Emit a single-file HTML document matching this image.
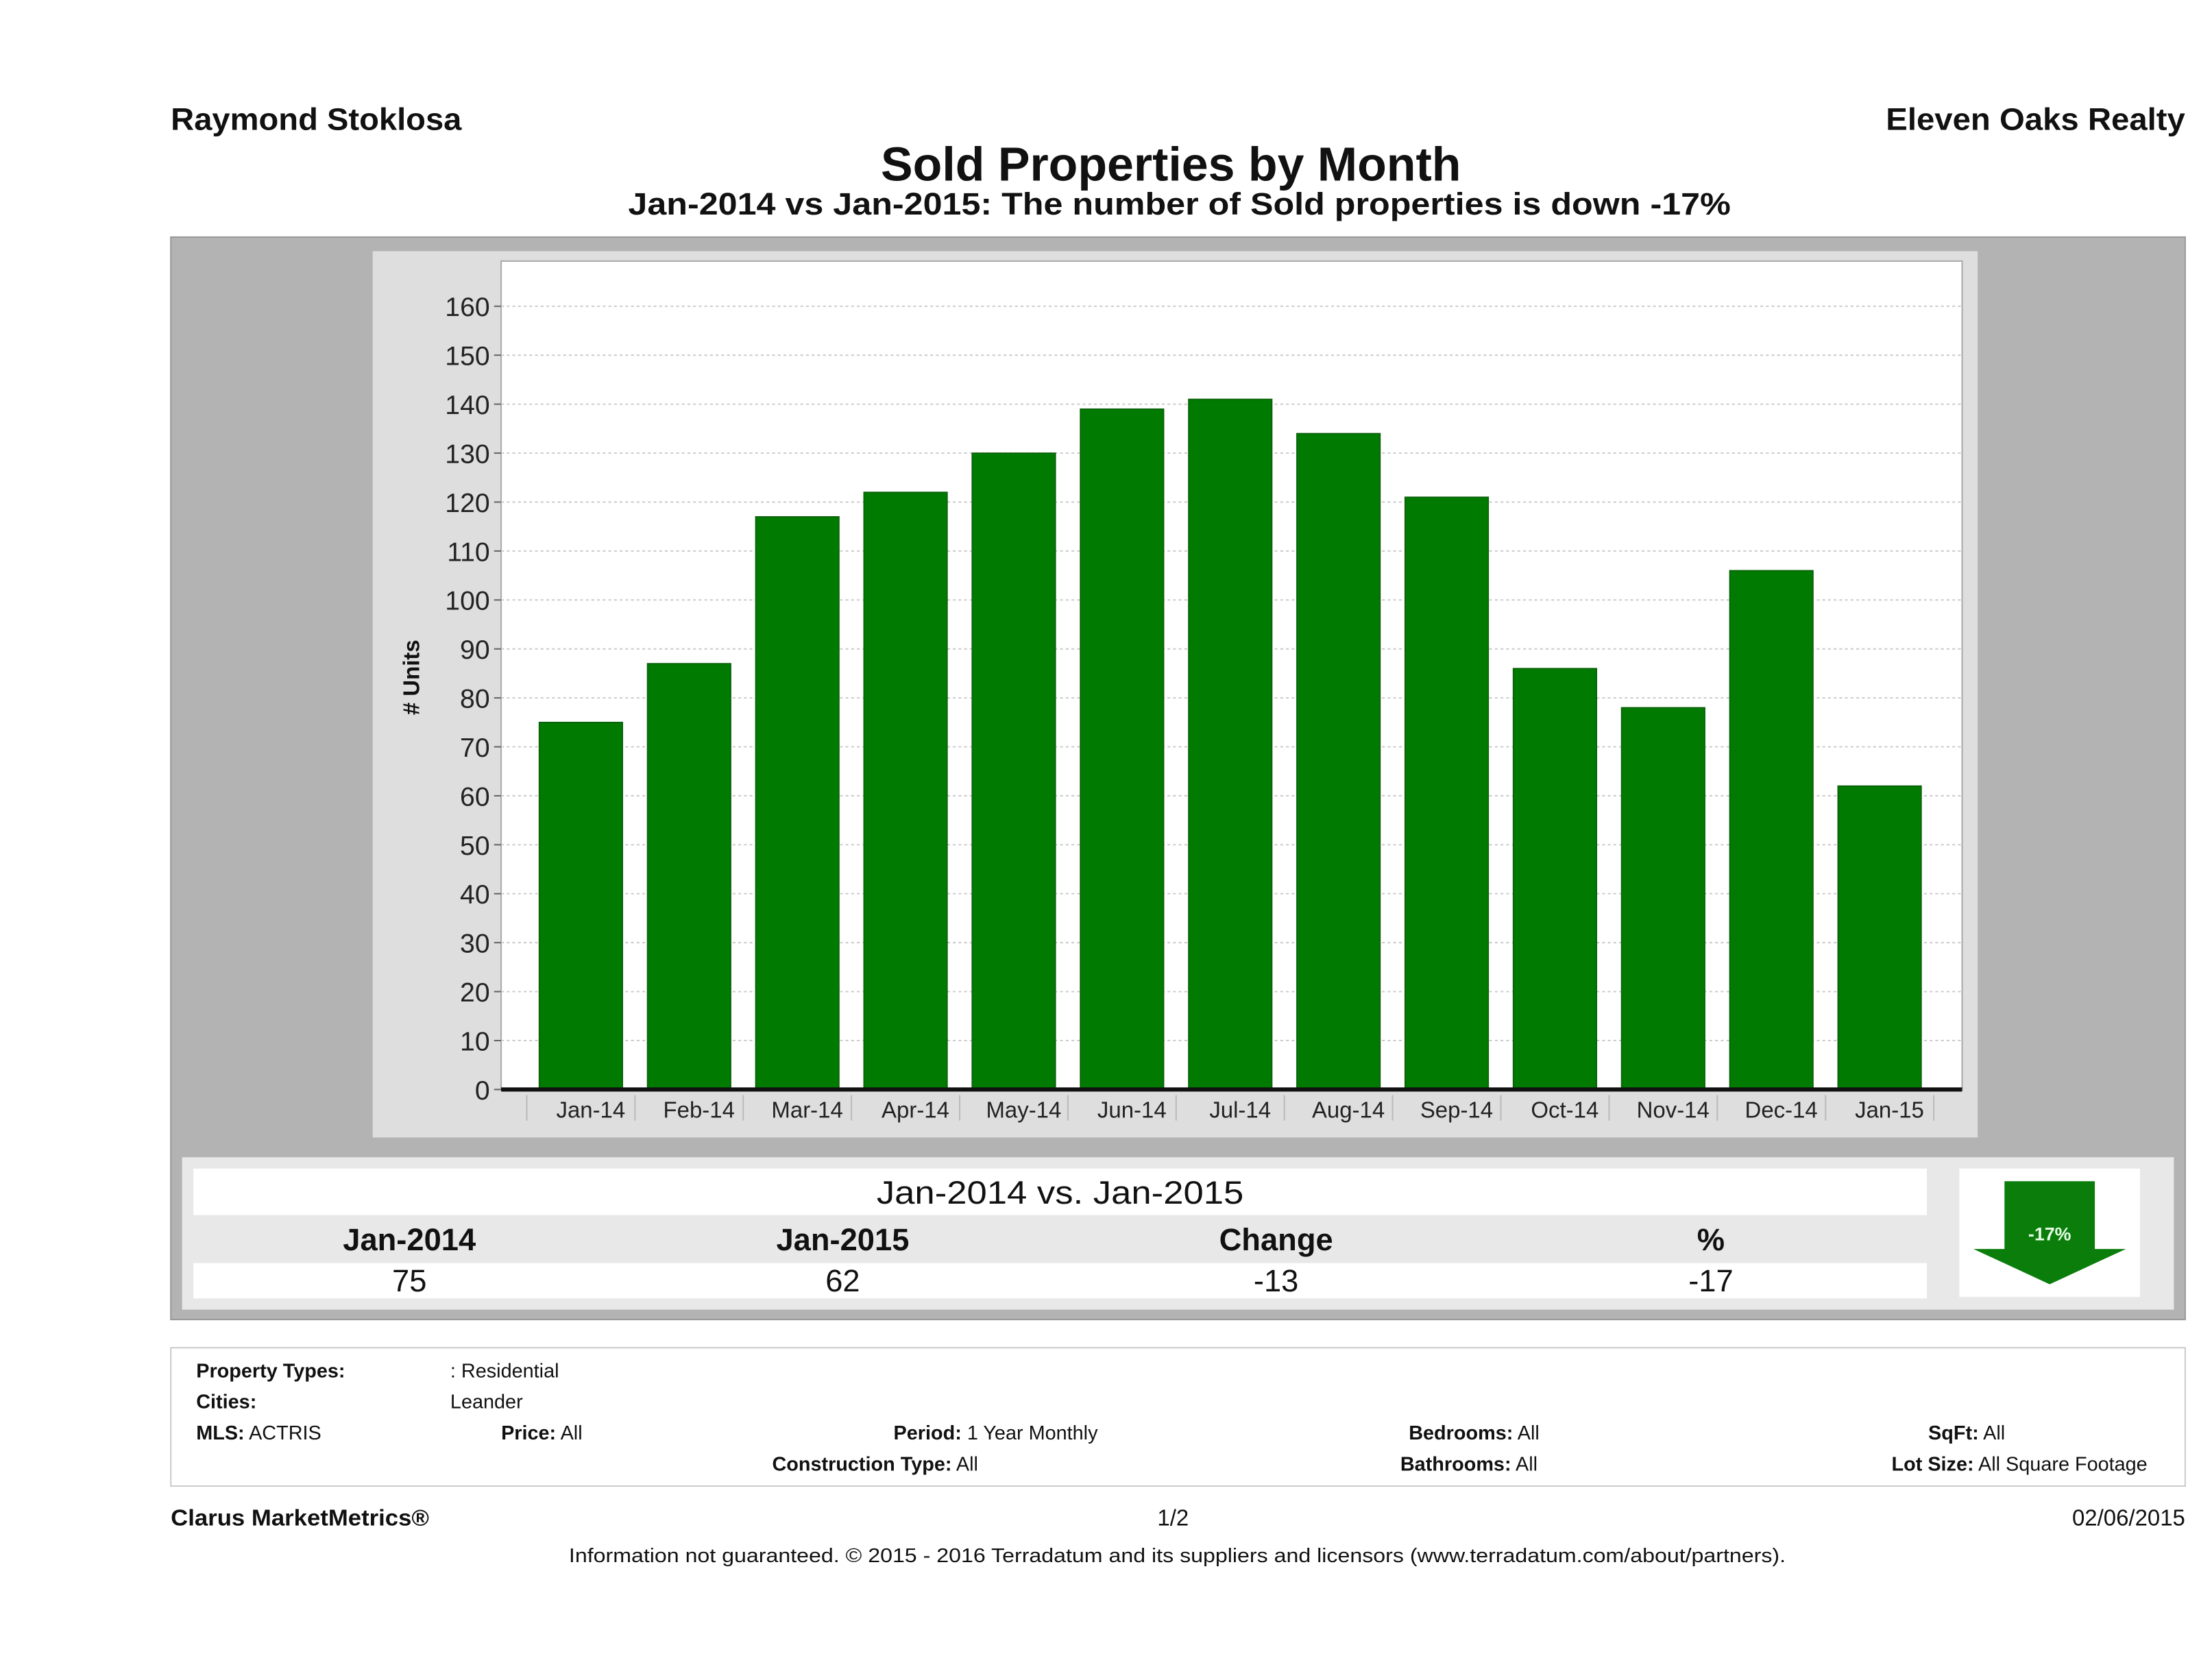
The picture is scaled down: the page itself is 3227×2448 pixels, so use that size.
<!DOCTYPE html>
<html><head><meta charset="utf-8"><style>
html,body{margin:0;padding:0;background:#fff;}
svg{display:block;font-family:"Liberation Sans","DejaVu Sans",sans-serif;}
</style></head><body>
<svg id="root" width="3227" height="2448" viewBox="0 0 1567 1189" preserveAspectRatio="none" xmlns="http://www.w3.org/2000/svg">
<text x="121" y="92" font-size="22" font-weight="bold" fill="#111" textLength="206" lengthAdjust="spacingAndGlyphs">Raymond Stoklosa</text>
<text x="1336" y="92" font-size="22" font-weight="bold" fill="#111" textLength="212" lengthAdjust="spacingAndGlyphs">Eleven Oaks Realty</text>
<text x="624" y="128" font-size="34" font-weight="bold" fill="#111" textLength="411" lengthAdjust="spacingAndGlyphs">Sold Properties by Month</text>
<text x="445" y="152" font-size="22" font-weight="bold" fill="#111" textLength="781" lengthAdjust="spacingAndGlyphs">Jan-2014 vs Jan-2015: The number of Sold  properties is down -17%</text>
<rect x="121" y="168" width="1427" height="767" fill="#b3b3b3" stroke="#999"/>
<rect x="264" y="178" width="1137" height="628" fill="#dedede"/>
<rect x="355" y="185" width="1035" height="587" fill="#fff" stroke="#aaa"/>
<g id="grid"></g>
<g id="bars"></g>
<g id="xaxis"></g>
<g id="yaxis"></g>
<text transform="translate(297,480) rotate(-90)" font-size="16" font-weight="bold" text-anchor="middle" fill="#111"># Units</text>

<rect x="129" y="820" width="1411" height="108" fill="#e8e8e8"/>
<rect x="137" y="828" width="1228" height="33" fill="#fff"/>
<text x="621" y="853" font-size="23" fill="#111" textLength="260" lengthAdjust="spacingAndGlyphs">Jan-2014 vs. Jan-2015</text>
<rect x="137" y="895" width="1228" height="25" fill="#fff"/>
<g font-size="22" text-anchor="middle" fill="#111">
<text x="290" y="886" font-weight="bold">Jan-2014</text>
<text x="597" y="886" font-weight="bold">Jan-2015</text>
<text x="904" y="886" font-weight="bold">Change</text>
<text x="1212" y="886" font-weight="bold">%</text>
<text x="290" y="915">75</text>
<text x="597" y="915">62</text>
<text x="904" y="915">-13</text>
<text x="1212" y="915">-17</text>
</g>
<rect x="1388" y="828" width="128" height="91" fill="#fff"/>
<polygon points="1420,837 1484,837 1484,885 1506,885 1452,910 1398,885 1420,885" fill="#0a7d0a"/>
<text x="1452" y="879" font-size="13" font-weight="bold" fill="#e8ffe8" text-anchor="middle">-17%</text>

<rect x="121" y="955" width="1427" height="98" fill="#fff" stroke="#ccc"/>
<g font-size="14" fill="#111">
<text x="139" y="976" font-weight="bold">Property Types:</text>
<text x="319" y="976">: Residential</text>
<text x="139" y="998" font-weight="bold">Cities:</text>
<text x="319" y="998">Leander</text>
<text x="139" y="1020"><tspan font-weight="bold">MLS:</tspan>   ACTRIS</text>
<text x="355" y="1020"><tspan font-weight="bold">Price:</tspan> All</text>
<text x="633" y="1020"><tspan font-weight="bold">Period:</tspan> 1 Year Monthly</text>
<text x="998" y="1020"><tspan font-weight="bold">Bedrooms:</tspan> All</text>
<text x="1366" y="1020"><tspan font-weight="bold">SqFt:</tspan>  All</text>
<text x="547" y="1042"><tspan font-weight="bold">Construction Type:</tspan> All</text>
<text x="992" y="1042"><tspan font-weight="bold">Bathrooms:</tspan> All</text>
<text x="1340" y="1042"><tspan font-weight="bold">Lot Size:</tspan>  All Square Footage</text>
</g>
<text x="121" y="1081" font-size="16" font-weight="bold" fill="#111" textLength="183" lengthAdjust="spacingAndGlyphs">Clarus MarketMetrics®</text>
<text x="831" y="1081" font-size="16" fill="#111" text-anchor="middle">1/2</text>
<text x="1548" y="1081" font-size="16" fill="#111" text-anchor="end">02/06/2015</text>
<text x="403" y="1107" font-size="14" fill="#111" textLength="862" lengthAdjust="spacingAndGlyphs">Information not guaranteed. © 2015 - 2016 Terradatum and its suppliers and licensors (www.terradatum.com/about/partners).</text>
</svg>
<script>
const categories = ["Jan-14","Feb-14","Mar-14","Apr-14","May-14","Jun-14","Jul-14","Aug-14","Sep-14","Oct-14","Nov-14","Dec-14","Jan-15"];
const soldValues = [75,87,117,122,130,139,141,134,121,86,78,106,62];
const yTicks = [0,10,20,30,40,50,60,70,80,90,100,110,120,130,140,150,160];

const NS = "http://www.w3.org/2000/svg";
const plotL = 355, plotR = 1390, y0 = 772, y160 = 217;
function yScale(v){ return y0 - (v/160)*(y0 - y160); }
const firstCenter = 411.5, step = 76.67, barW = 59;
function xScale(i){ return firstCenter + i*step; }
function mk(tag, attrs){ const e = document.createElementNS(NS, tag); for (const k in attrs) e.setAttribute(k, attrs[k]); return e; }

const grid = document.getElementById('grid');
const yaxis = document.getElementById('yaxis');
yTicks.forEach(t => {
  const y = yScale(t);
  if (t > 0) {
    const g = mk('line', {x1: plotL, x2: plotR, y1: y, y2: y, stroke: '#ccc', 'stroke-dasharray': '2,2'});
    
    
    grid.appendChild(g);
  }
  const tk = mk('line', {x1: plotL - 5, x2: plotL, y1: y, y2: y, stroke: '#666'});
  
  
  yaxis.appendChild(tk);
  const lb = mk('text', {x: plotL - 8, y: y + 7, 'font-size': 19, 'text-anchor': 'end', fill: '#222'});
  lb.textContent = t;
  
  
  yaxis.appendChild(lb);
});

const bars = document.getElementById('bars');
soldValues.forEach((v, i) => {
  const cx = xScale(i);
  const r = mk('rect', {x: cx - barW/2, y: yScale(v), width: barW, height: y0 - yScale(v), fill: '#007a00', stroke: '#0b5e0b', 'stroke-width': 0.8});
  
  
  bars.appendChild(r);
});

const xaxis = document.getElementById('xaxis');
const al = mk('line', {x1: plotL, x2: plotR, y1: y0, y2: y0, stroke: '#111', 'stroke-width': 3});


xaxis.appendChild(al);
categories.forEach((c, i) => {
  const cx = xScale(i);
  const sep = mk('line', {x1: cx - step/2, x2: cx - step/2, y1: y0 + 4, y2: y0 + 22, stroke: '#bbb'});
  
  
  xaxis.appendChild(sep);
  const t = mk('text', {x: cx + 7, y: y0 + 20, 'font-size': 16, 'text-anchor': 'middle', fill: '#222'});
  t.textContent = c;
  
  
  xaxis.appendChild(t);
});
const lastSep = mk('line', {x1: xScale(categories.length-1) + step/2, x2: xScale(categories.length-1) + step/2, y1: y0 + 4, y2: y0 + 22, stroke: '#bbb'});


xaxis.appendChild(lastSep);
</script>
</body></html>
